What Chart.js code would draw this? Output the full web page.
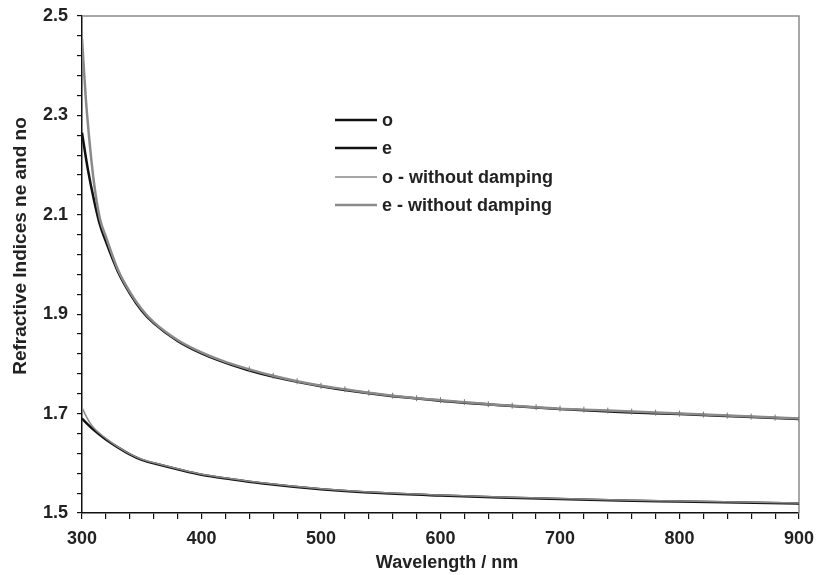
<!DOCTYPE html>
<html>
<head>
<meta charset="utf-8">
<script src="https://cdn.jsdelivr.net/npm/chart.js@4"></script>
<style>
  body { margin: 0; background: #fff; }
</style>
</head>
<body>
<canvas id="myChart" width="817" height="575"></canvas>
<script>
// wavelengths (nm) and refractive indices
const wlO = [300, 305, 310, 320, 330, 340, 350, 365, 380, 400, 425, 450, 500, 550, 600, 650, 700, 750, 800, 850, 900]
const nO = [1.690, 1.678, 1.667, 1.648, 1.632, 1.618, 1.607, 1.597, 1.588, 1.577, 1.568, 1.560, 1.548, 1.540, 1.535, 1.531, 1.528, 1.525, 1.523, 1.521, 1.519]

const wlE = [300, 305, 310, 315, 320, 330, 340, 350, 360, 380, 400, 425, 450, 500, 550, 600, 650, 700, 750, 800, 850, 900]
const nE = [2.265, 2.190, 2.130, 2.080, 2.046, 1.986, 1.942, 1.907, 1.882, 1.846, 1.821, 1.798, 1.780, 1.755, 1.738, 1.726, 1.717, 1.709, 1.703, 1.699, 1.694, 1.689]

const wlOnd = [300, 303, 306, 310, 320, 330, 340, 350, 365, 380, 400, 425, 450, 500, 550, 600, 650, 700, 750, 800, 850, 900]
const nOnd = [1.712, 1.697, 1.684, 1.671, 1.650, 1.633, 1.619, 1.608, 1.598, 1.589, 1.578, 1.569, 1.561, 1.549, 1.541, 1.536, 1.532, 1.529, 1.526, 1.524, 1.522, 1.520]

const wlEnd = [300, 303, 306, 310, 315, 320, 330, 340, 350, 360, 380, 400, 420, 440, 460, 480, 500, 520, 540, 560, 580, 600,
  620, 640, 660, 680, 700, 720, 740, 760, 780, 800, 820, 840, 860, 880, 900]
const nEnd = [2.455, 2.340, 2.255, 2.165, 2.092, 2.056, 1.990, 1.945, 1.910, 1.884, 1.848, 1.823, 1.804, 1.789, 1.776, 1.765,
  1.756, 1.749, 1.742, 1.736, 1.731, 1.727, 1.723, 1.719, 1.716, 1.713, 1.710, 1.708, 1.706, 1.704, 1.702, 1.700,
  1.698, 1.696, 1.694, 1.692, 1.690]

const seriesNames = ['o', 'e', 'o - without damping', 'e - without damping']
const xTitle = 'Wavelength / nm'
const yTitle = 'Refractive Indices ne and no'

const pts = (xs, ys) => xs.map((x, i) => ({ x: x, y: ys[i] }))
const FONT = 'Liberation Sans, Arial, sans-serif'

// legend drawn inside the plot, like the original
const innerLegend = {
  id: 'innerLegend',
  afterDatasetsDraw(chart) {
    const c = chart.ctx
    const rows = [120, 148, 177, 205]
    c.save()
    c.font = 'bold 18px ' + FONT
    c.textBaseline = 'middle'
    c.fillStyle = '#222'
    chart.data.datasets.forEach((ds, i) => {
      c.strokeStyle = ds.borderColor
      c.lineWidth = ds.borderWidth
      c.beginPath()
      c.moveTo(335, rows[i])
      c.lineTo(377, rows[i])
      c.stroke()
      c.fillText(ds.label, 382, rows[i] + 1)
    })
    c.restore()
  }
}

// gray frame on top and right, plus the axis titles
const frame = {
  id: 'frame',
  beforeDatasetsDraw(chart) {
    const a = chart.chartArea
    const c = chart.ctx
    c.save()
    c.strokeStyle = '#8c8c8c'
    c.lineWidth = 1.5
    c.beginPath()
    c.moveTo(a.left, a.top)
    c.lineTo(a.right, a.top)
    c.lineTo(a.right, a.bottom)
    c.stroke()

    c.fillStyle = '#222'
    c.textAlign = 'center'
    c.textBaseline = 'middle'
    c.font = 'bold 18px ' + FONT
    c.fillText(xTitle, 447, 563)
    c.translate(21, 246)
    c.rotate(-Math.PI / 2)
    c.font = 'bold 19px ' + FONT
    c.fillText(yTitle, 0, 0)
    c.restore()
  }
}

var ctx = document.getElementById('myChart')
var myChart = new Chart(ctx, {
  type: 'scatter',
  data: {
    datasets: [{
      label: seriesNames[0],
      data: pts(wlO, nO),
      borderColor: '#111',
      borderWidth: 2.5,
      pointRadius: 0,
      order: 3
    }, {
      label: seriesNames[1],
      data: pts(wlE, nE),
      borderColor: '#111',
      borderWidth: 2.5,
      pointRadius: 0,
      order: 4
    }, {
      label: seriesNames[2],
      data: pts(wlOnd, nOnd),
      borderColor: '#888',
      borderWidth: 1.5,
      pointRadius: 0,
      order: 1
    }, {
      label: seriesNames[3],
      data: pts(wlEnd, nEnd),
      borderColor: '#8a8a8a',
      borderWidth: 2.5,
      pointStyle: 'line',
      rotation: 90,
      pointRadius: (c) => (c.raw && c.raw.x >= 440 ? 3 : 0),
      pointBorderWidth: 1,
      pointBorderColor: '#777',
      order: 2
    }]
  },
  options: {
    responsive: false,
    animation: false,
    showLine: true,
    cubicInterpolationMode: 'monotone',
    layout: { padding: { top: 16, right: 18, left: 0, bottom: 0 } },
    plugins: {
      legend: { display: false },
      tooltip: { enabled: false }
    },
    scales: {
      x: {
        type: 'linear',
        min: 300,
        max: 900,
        afterFit: (s) => { s.height = 62; s.paddingLeft = 0; s.paddingRight = 0 },
        border: { color: '#111', width: 1.5 },
        grid: { drawOnChartArea: false, drawTicks: true, tickLength: 6, color: '#111', lineWidth: 1.2 },
        ticks: {
          stepSize: 20,
          autoSkip: false,
          maxRotation: 0,
          padding: 9,
          color: '#222',
          font: { family: FONT, size: 18, weight: 'bold' },
          callback: (v) => (v % 100 === 0 ? String(v) : '')
        }
      },
      y: {
        min: 1.5,
        max: 2.5,
        afterFit: (s) => { s.width = 82; s.paddingTop = 0; s.paddingBottom = 0 },
        border: { color: '#111', width: 1.5 },
        grid: { drawOnChartArea: false, drawTicks: true, tickLength: 5, color: '#111', lineWidth: 1.2 },
        ticks: {
          stepSize: 0.04,
          autoSkip: false,
          padding: 9,
          color: '#222',
          font: { family: FONT, size: 18, weight: 'bold' },
          callback: (v) => {
            const t = v * 10
            const r = Math.round(t)
            return (Math.abs(t - r) < 1e-6 && r % 2 === 1) ? (r / 10).toFixed(1) : ''
          }
        }
      }
    }
  },
  plugins: [frame, innerLegend]
})
</script>
</body>
</html>
